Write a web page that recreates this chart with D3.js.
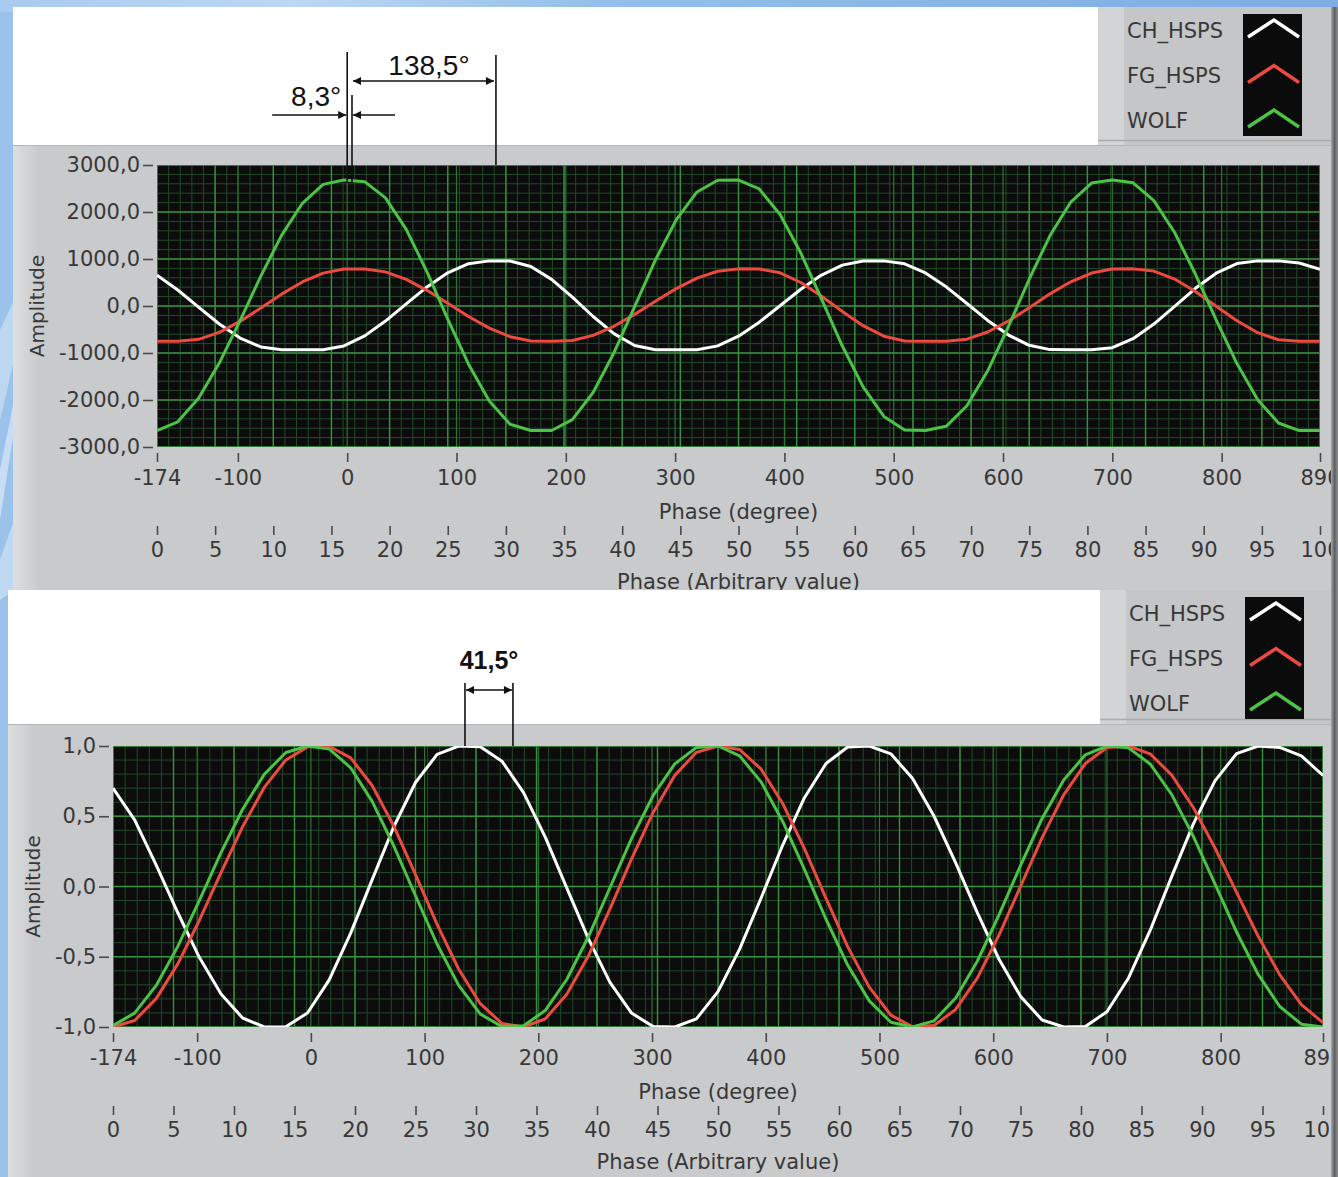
<!DOCTYPE html>
<html>
<head>
<meta charset="utf-8">
<script src="https://cdn.jsdelivr.net/npm/d3@7"></script>
<style>
html, body { margin: 0; padding: 0; background: #9bc2ea; }
svg { display: block; }
</style>
</head>
<body>
<svg id="chart" width="1338" height="1177"></svg>
<script>
// phase samples (degree) shared by every trace
const phase = [-174, -155, -136, -117, -98, -79, -60, -41, -22, -3, 16, 35, 54, 73, 92, 111, 130, 149, 168, 187,
  206, 225, 244, 263, 282, 301, 320, 339, 358, 377, 396, 415, 434, 453, 472, 491, 510, 529, 548, 567,
  586, 605, 624, 643, 662, 681, 700, 719, 738, 757, 776, 795, 814, 833, 852, 871, 890];

// upper graph, raw amplitude
const topCH = [655, 340, -24, -383, -681, -872, -930, -930, -930, -849, -636, -321, 44, 406, 707, 901, 960, 958, 841, 567,
  189, -223, -588, -840, -930, -930, -929, -848, -643, -344, 5, 357, 659, 870, 958, 960, 897, 703, 408, 53,
  -307, -618, -836, -928, -930, -930, -886, -695, -384, -6, 377, 698, 903, 960, 960, 914, 780];
const topFG = [-750, -750, -709, -562, -328, -43, 252, 512, 700, 786, 789, 726, 567, 334, 58, -224, -471, -653, -743, -750,
  -733, -625, -431, -178, 102, 369, 592, 739, 790, 788, 706, 500, 208, -117, -419, -642, -745, -750, -750, -705,
  -554, -319, -35, 258, 515, 701, 786, 790, 743, 573, 309, -6, -315, -568, -719, -750, -750];
const topWOLF = [-2650, -2464, -1965, -1215, -310, 636, 1504, 2185, 2588, 2680, 2646, 2301, 1629, 727, -278, -1239, -2023, -2515, -2650, -2648,
  -2418, -1841, -999, -12, 980, 1832, 2426, 2675, 2680, 2490, 1946, 1127, 148, -852, -1721, -2349, -2637, -2650, -2560, -2122,
  -1378, -436, 571, 1499, 2212, 2616, 2680, 2620, 2242, 1564, 680, -294, -1225, -1993, -2489, -2650, -2650];

// lower graph, normalised amplitude
const botCH = [0.70, 0.474, 0.152, -0.187, -0.506, -0.765, -0.936, -1, -0.998, -0.9, -0.666, -0.332, 0.051, 0.427, 0.74, 0.94, 1, 0.995, 0.892, 0.668,
  0.353, -0.01, -0.371, -0.682, -0.901, -0.997, -1, -0.942, -0.748, -0.446, -0.08, 0.297, 0.632, 0.875, 0.993, 1, 0.944, 0.77, 0.5, 0.168,
  -0.186, -0.516, -0.782, -0.95, -1, -0.997, -0.891, -0.651, -0.313, 0.072, 0.446, 0.752, 0.946, 1, 0.99, 0.93, 0.79];
const botFG = [-1, -0.954, -0.798, -0.551, -0.24, 0.099, 0.426, 0.705, 0.901, 0.994, 0.998, 0.916, 0.717, 0.428, 0.084, -0.269, -0.589, -0.834, -0.975, -1,
  -0.943, -0.767, -0.495, -0.159, 0.197, 0.527, 0.791, 0.955, 1, 0.975, 0.835, 0.589, 0.27, -0.085, -0.428, -0.716, -0.915, -0.998, -0.989, -0.875,
  -0.652, -0.348, 0, 0.348, 0.652, 0.875, 0.989, 1, 0.944, 0.793, 0.562, 0.274, -0.042, -0.354, -0.629, -0.841, -0.969];
const botWOLF = [-0.99, -0.901, -0.704, -0.426, -0.099, 0.241, 0.55, 0.798, 0.954, 1, 0.979, 0.845, 0.604, 0.287, -0.066, -0.411, -0.704, -0.908, -0.997, -0.991,
  -0.883, -0.662, -0.358, -0.009, 0.342, 0.648, 0.873, 0.989, 1, 0.93, 0.743, 0.461, 0.122, -0.233, -0.559, -0.814, -0.966, -1, -0.956, -0.793,
  -0.532, -0.204, 0.149, 0.484, 0.758, 0.937, 1, 0.987, 0.872, 0.654, 0.357, 0.018, -0.324, -0.626, -0.854, -0.98, -1];

const seriesNames = ["CH_HSPS", "FG_HSPS", "WOLF"];
const seriesColors = ["#ffffff", "#ec4a3f", "#4cc246"];

const degreeTicks = [-174, -100, 0, 100, 200, 300, 400, 500, 600, 700, 800, 890];
const arbTicks = [0, 5, 10, 15, 20, 25, 30, 35, 40, 45, 50, 55, 60, 65, 70, 75, 80, 85, 90, 95, 100];
const topYTicks = [3000, 2000, 1000, 0, -1000, -2000, -3000];
const botYTicks = [1, 0.5, 0, -0.5, -1];

// measurement lines (phase, degree) and their labels
const topMarks = [0, 4.4, 136.1];
const topLabels = ["8,3°", "138,5°"];
const botMarks = [135.5, 177.7];
const botLabels = ["41,5°"];

const W = 1338, H = 1177;
const svg = d3.select("#chart");
const defs = svg.append("defs");
const loc = d3.formatLocale({ decimal: ",", thousands: ".", grouping: [3], currency: ["", ""], minus: "-" });
const fmt1 = loc.format(".1f");
const uiFont = "DejaVu Sans";
const textGrey = "#383838";

// gradients
const bg = defs.append("linearGradient").attr("id", "topStrip");
[["0%", "#a8cbef"], ["22%", "#bcd7f3"], ["45%", "#93bfea"], ["75%", "#86b6e7"], ["100%", "#7daee4"]]
  .forEach(s => bg.append("stop").attr("offset", s[0]).attr("stop-color", s[1]));
const ls = defs.append("linearGradient").attr("id", "leftStrip");
ls.append("stop").attr("offset", "0%").attr("stop-color", "#dcdee0");
ls.append("stop").attr("offset", "100%").attr("stop-color", "#c8cacc");
const rb = defs.append("linearGradient").attr("id", "rightBevel");
rb.append("stop").attr("offset", "0%").attr("stop-color", "#a4a6a8");
rb.append("stop").attr("offset", "50%").attr("stop-color", "#5e6062");
rb.append("stop").attr("offset", "100%").attr("stop-color", "#8e9092");

defs.append("marker").attr("id", "arrow")
  .attr("viewBox", "0 0 10 10").attr("refX", 10).attr("refY", 5)
  .attr("markerWidth", 11).attr("markerHeight", 8)
  .attr("markerUnits", "userSpaceOnUse").attr("orient", "auto-start-reverse")
  .append("path").attr("d", "M0,0L10,5L0,10z").attr("fill", "#111");

// page background
svg.append("rect").attr("width", W).attr("height", H).attr("fill", "#9bc2ea");
svg.append("rect").attr("width", W).attr("height", 12).attr("fill", "url(#topStrip)");
svg.append("path").attr("d", "M0,330 L14,300 L14,360 L0,420 Z").attr("fill", "#ffffff").attr("opacity", 0.35);
svg.append("path").attr("d", "M0,470 L14,400 L14,430 L0,520 Z").attr("fill", "#ffffff").attr("opacity", 0.45);
svg.append("path").attr("d", "M0,560 L14,520 L14,590 L0,600 Z").attr("fill", "#d8e8f8").attr("opacity", 0.6);

function drawPanel(p) {
  const g = svg.append("g");
  const plotClip = "plot-" + p.id;
  const panelClip = "panel-" + p.id;
  defs.append("clipPath").attr("id", plotClip).append("rect")
    .attr("x", p.pl).attr("y", p.pt).attr("width", p.pr - p.pl).attr("height", p.pb - p.pt);
  defs.append("clipPath").attr("id", panelClip).append("rect")
    .attr("x", p.left).attr("y", p.top).attr("width", 1331 - p.left).attr("height", p.bottom - p.top);

  // white header and grey body
  g.append("rect").attr("x", p.left).attr("y", p.top).attr("width", p.legendX - p.left)
    .attr("height", p.bodyTop - p.top).attr("fill", "#ffffff");
  g.append("rect").attr("x", p.left).attr("y", p.bodyTop).attr("width", W - p.left)
    .attr("height", p.bottom - p.bodyTop).attr("fill", "#c8cacc");
  g.append("rect").attr("x", p.left).attr("y", p.bodyTop).attr("width", 26)
    .attr("height", p.bottom - p.bodyTop).attr("fill", "url(#leftStrip)");
  g.append("line").attr("x1", p.left).attr("x2", W).attr("y1", p.bodyTop + 0.5).attr("y2", p.bodyTop + 0.5)
    .attr("stroke", "#b4b6b8");

  // legend
  const lg = g.append("g");
  lg.append("rect").attr("x", p.legendX).attr("y", p.top).attr("width", W - p.legendX)
    .attr("height", p.bodyTop - p.top).attr("fill", "#c4c6c8");
  lg.append("rect").attr("x", p.legendX).attr("y", p.top).attr("width", 26)
    .attr("height", p.bodyTop - p.top).attr("fill", "#d2d4d6");
  lg.append("line").attr("x1", p.legendX).attr("x2", W).attr("y1", p.bodyTop - 4.5).attr("y2", p.bodyTop - 4.5)
    .attr("stroke", "#a9abad").attr("stroke-width", 1.5);
  lg.append("rect").attr("x", p.legendX + 145).attr("y", p.top + 7).attr("width", 59)
    .attr("height", 122).attr("fill", "#0b0b0b");
  const rowY = [23, 68.5, 113];
  seriesNames.forEach((name, i) => {
    const cy = p.top + rowY[i];
    lg.append("text").attr("x", p.legendX + 29).attr("y", cy).attr("dy", "0.36em")
      .attr("font-family", uiFont).attr("font-size", 21).attr("fill", textGrey).text(name);
    const x0 = p.legendX + 150, x1 = p.legendX + 176, x2 = p.legendX + 201;
    lg.append("path").attr("d", `M${x0},${cy + 7}L${x1},${cy - 10}L${x2},${cy + 7}`)
      .attr("fill", "none").attr("stroke", seriesColors[i]).attr("stroke-width", 3.5);
  });

  // scales
  const x = d3.scaleLinear().domain(d3.extent(degreeTicks)).range([p.pl, p.pr]);
  const xa = d3.scaleLinear().domain(d3.extent(arbTicks)).range([p.pl, p.pr]);
  const y = d3.scaleLinear().domain(d3.extent(p.yTicks)).range([p.pb, p.pt]);

  // plot area with grid
  const plot = g.append("g").attr("clip-path", `url(#${plotClip})`);
  plot.append("rect").attr("x", p.pl).attr("y", p.pt).attr("width", p.pr - p.pl)
    .attr("height", p.pb - p.pt).attr("fill", "#0b0c0b");
  plot.selectAll(".vmin").data(xa.ticks(100)).join("line")
    .attr("x1", d => xa(d)).attr("x2", d => xa(d)).attr("y1", p.pt).attr("y2", p.pb)
    .attr("stroke", "#22492a").attr("stroke-width", 1);
  plot.selectAll(".hmin").data(y.ticks(p.minorCount)).join("line")
    .attr("x1", p.pl).attr("x2", p.pr).attr("y1", d => y(d)).attr("y2", d => y(d))
    .attr("stroke", "#22492a").attr("stroke-width", 1);
  plot.selectAll(".vdeg").data(degreeTicks).join("line")
    .attr("x1", d => x(d)).attr("x2", d => x(d)).attr("y1", p.pt).attr("y2", p.pb)
    .attr("stroke", "#2d7434").attr("stroke-width", 1.2);
  plot.selectAll(".varb").data(arbTicks).join("line")
    .attr("x1", d => xa(d)).attr("x2", d => xa(d)).attr("y1", p.pt).attr("y2", p.pb)
    .attr("stroke", "#37923f").attr("stroke-width", 1.4);
  plot.selectAll(".hmaj").data(p.yTicks).join("line")
    .attr("x1", p.pl).attr("x2", p.pr).attr("y1", d => y(d)).attr("y2", d => y(d))
    .attr("stroke", "#37923f").attr("stroke-width", 1.4);

  const line = d3.line().x((d, i) => x(phase[i])).y(d => y(d));
  plot.selectAll(".curve").data(p.series).join("path")
    .attr("d", line).attr("fill", "none")
    .attr("stroke", (d, i) => seriesColors[i]).attr("stroke-width", 3)
    .attr("stroke-linejoin", "round");

  // axes
  const axes = g.append("g").attr("clip-path", `url(#${panelClip})`);
  const styleAxis = sel => {
    sel.select(".domain").remove();
    sel.attr("font-family", uiFont).attr("font-size", 21);
    sel.selectAll(".tick line").attr("stroke", "#4a4a4a").attr("stroke-width", 1.6);
    sel.selectAll(".tick text").attr("fill", textGrey);
  };
  axes.append("g").attr("transform", `translate(${p.pl - 4},0)`)
    .call(d3.axisLeft(y).tickValues(p.yTicks).tickFormat(fmt1).tickSize(10).tickPadding(3))
    .call(styleAxis);
  axes.append("g").attr("transform", `translate(0,${p.pb + 6})`)
    .call(d3.axisBottom(x).tickValues(degreeTicks).tickFormat(d => String(d)).tickSize(9).tickPadding(8))
    .call(styleAxis);
  axes.append("g").attr("transform", `translate(0,${p.pb + 79})`)
    .call(d3.axisBottom(xa).tickValues(arbTicks).tickFormat(d => String(d)).tickSize(9).tickPadding(7))
    .call(styleAxis);

  const cx = (p.pl + p.pr) / 2;
  axes.append("text").attr("x", cx).attr("y", p.pb + 64).attr("dy", "0.36em")
    .attr("text-anchor", "middle").attr("font-family", uiFont).attr("font-size", 21)
    .attr("fill", textGrey).text("Phase (degree)");
  axes.append("text").attr("x", cx).attr("y", p.pb + 134).attr("dy", "0.36em")
    .attr("text-anchor", "middle").attr("font-family", uiFont).attr("font-size", 21)
    .attr("fill", textGrey).text("Phase (Arbitrary value)");
  axes.append("text")
    .attr("transform", `translate(${p.ylabelX},${(p.pt + p.pb) / 2}) rotate(-90)`)
    .attr("dy", "0.36em").attr("text-anchor", "middle").attr("font-family", uiFont)
    .attr("font-size", 20).attr("fill", textGrey).text("Amplitude");

  // right bevel
  g.append("rect").attr("x", 1331).attr("y", p.top).attr("width", W - 1331)
    .attr("height", p.bottom - p.top).attr("fill", "url(#rightBevel)");

  return x;
}

const xTop = drawPanel({
  id: "top", left: 13, top: 7, bodyTop: 145, bottom: 590, legendX: 1098,
  pl: 157, pr: 1320, pt: 165, pb: 447, ylabelX: 37,
  yTicks: topYTicks, minorCount: 30, series: [topCH, topFG, topWOLF]
});
const xBot = drawPanel({
  id: "bot", left: 8, top: 590, bodyTop: 724, bottom: 1177, legendX: 1100,
  pl: 113, pr: 1323, pt: 746, pb: 1027, ylabelX: 33,
  yTicks: botYTicks, minorCount: 20, series: [botCH, botFG, botWOLF]
});

// measurement annotations, upper graph
const ann = svg.append("g").attr("stroke", "#111").attr("stroke-width", 1.6);
const [a0, a1, a2] = topMarks.map(xTop);
ann.append("line").attr("x1", a0).attr("x2", a0).attr("y1", 52).attr("y2", 183);
ann.append("line").attr("x1", a1).attr("x2", a1).attr("y1", 95).attr("y2", 183);
ann.append("line").attr("x1", a2).attr("x2", a2).attr("y1", 55).attr("y2", 165);
ann.append("line").attr("x1", a1 + 1).attr("x2", a2 - 2).attr("y1", 81).attr("y2", 81)
  .attr("marker-start", "url(#arrow)").attr("marker-end", "url(#arrow)");
ann.append("line").attr("x1", a0 - 75).attr("x2", a0 - 1).attr("y1", 115).attr("y2", 115)
  .attr("marker-end", "url(#arrow)");
ann.append("line").attr("x1", a1 + 43).attr("x2", a1 + 1).attr("y1", 115).attr("y2", 115)
  .attr("marker-end", "url(#arrow)");
svg.append("text").attr("x", a0 - 6).attr("y", 106).attr("text-anchor", "end")
  .attr("font-family", "Liberation Sans").attr("font-size", 28).attr("fill", "#111").text(topLabels[0]);
svg.append("text").attr("x", (a1 + a2) / 2 + 5).attr("y", 75).attr("text-anchor", "middle")
  .attr("font-family", "Liberation Sans").attr("font-size", 28).attr("fill", "#111").text(topLabels[1]);

// measurement annotation, lower graph
const [b0, b1] = botMarks.map(xBot);
ann.append("line").attr("x1", b0).attr("x2", b0).attr("y1", 683).attr("y2", 746);
ann.append("line").attr("x1", b1).attr("x2", b1).attr("y1", 683).attr("y2", 746);
ann.append("line").attr("x1", b0 + 1).attr("x2", b1 - 1).attr("y1", 690).attr("y2", 690)
  .attr("marker-start", "url(#arrow)").attr("marker-end", "url(#arrow)");
svg.append("text").attr("x", (b0 + b1) / 2).attr("y", 669).attr("text-anchor", "middle")
  .attr("font-family", "Liberation Sans").attr("font-size", 25).attr("font-weight", "bold")
  .attr("fill", "#111").text(botLabels[0]);
</script>
</body>
</html>
